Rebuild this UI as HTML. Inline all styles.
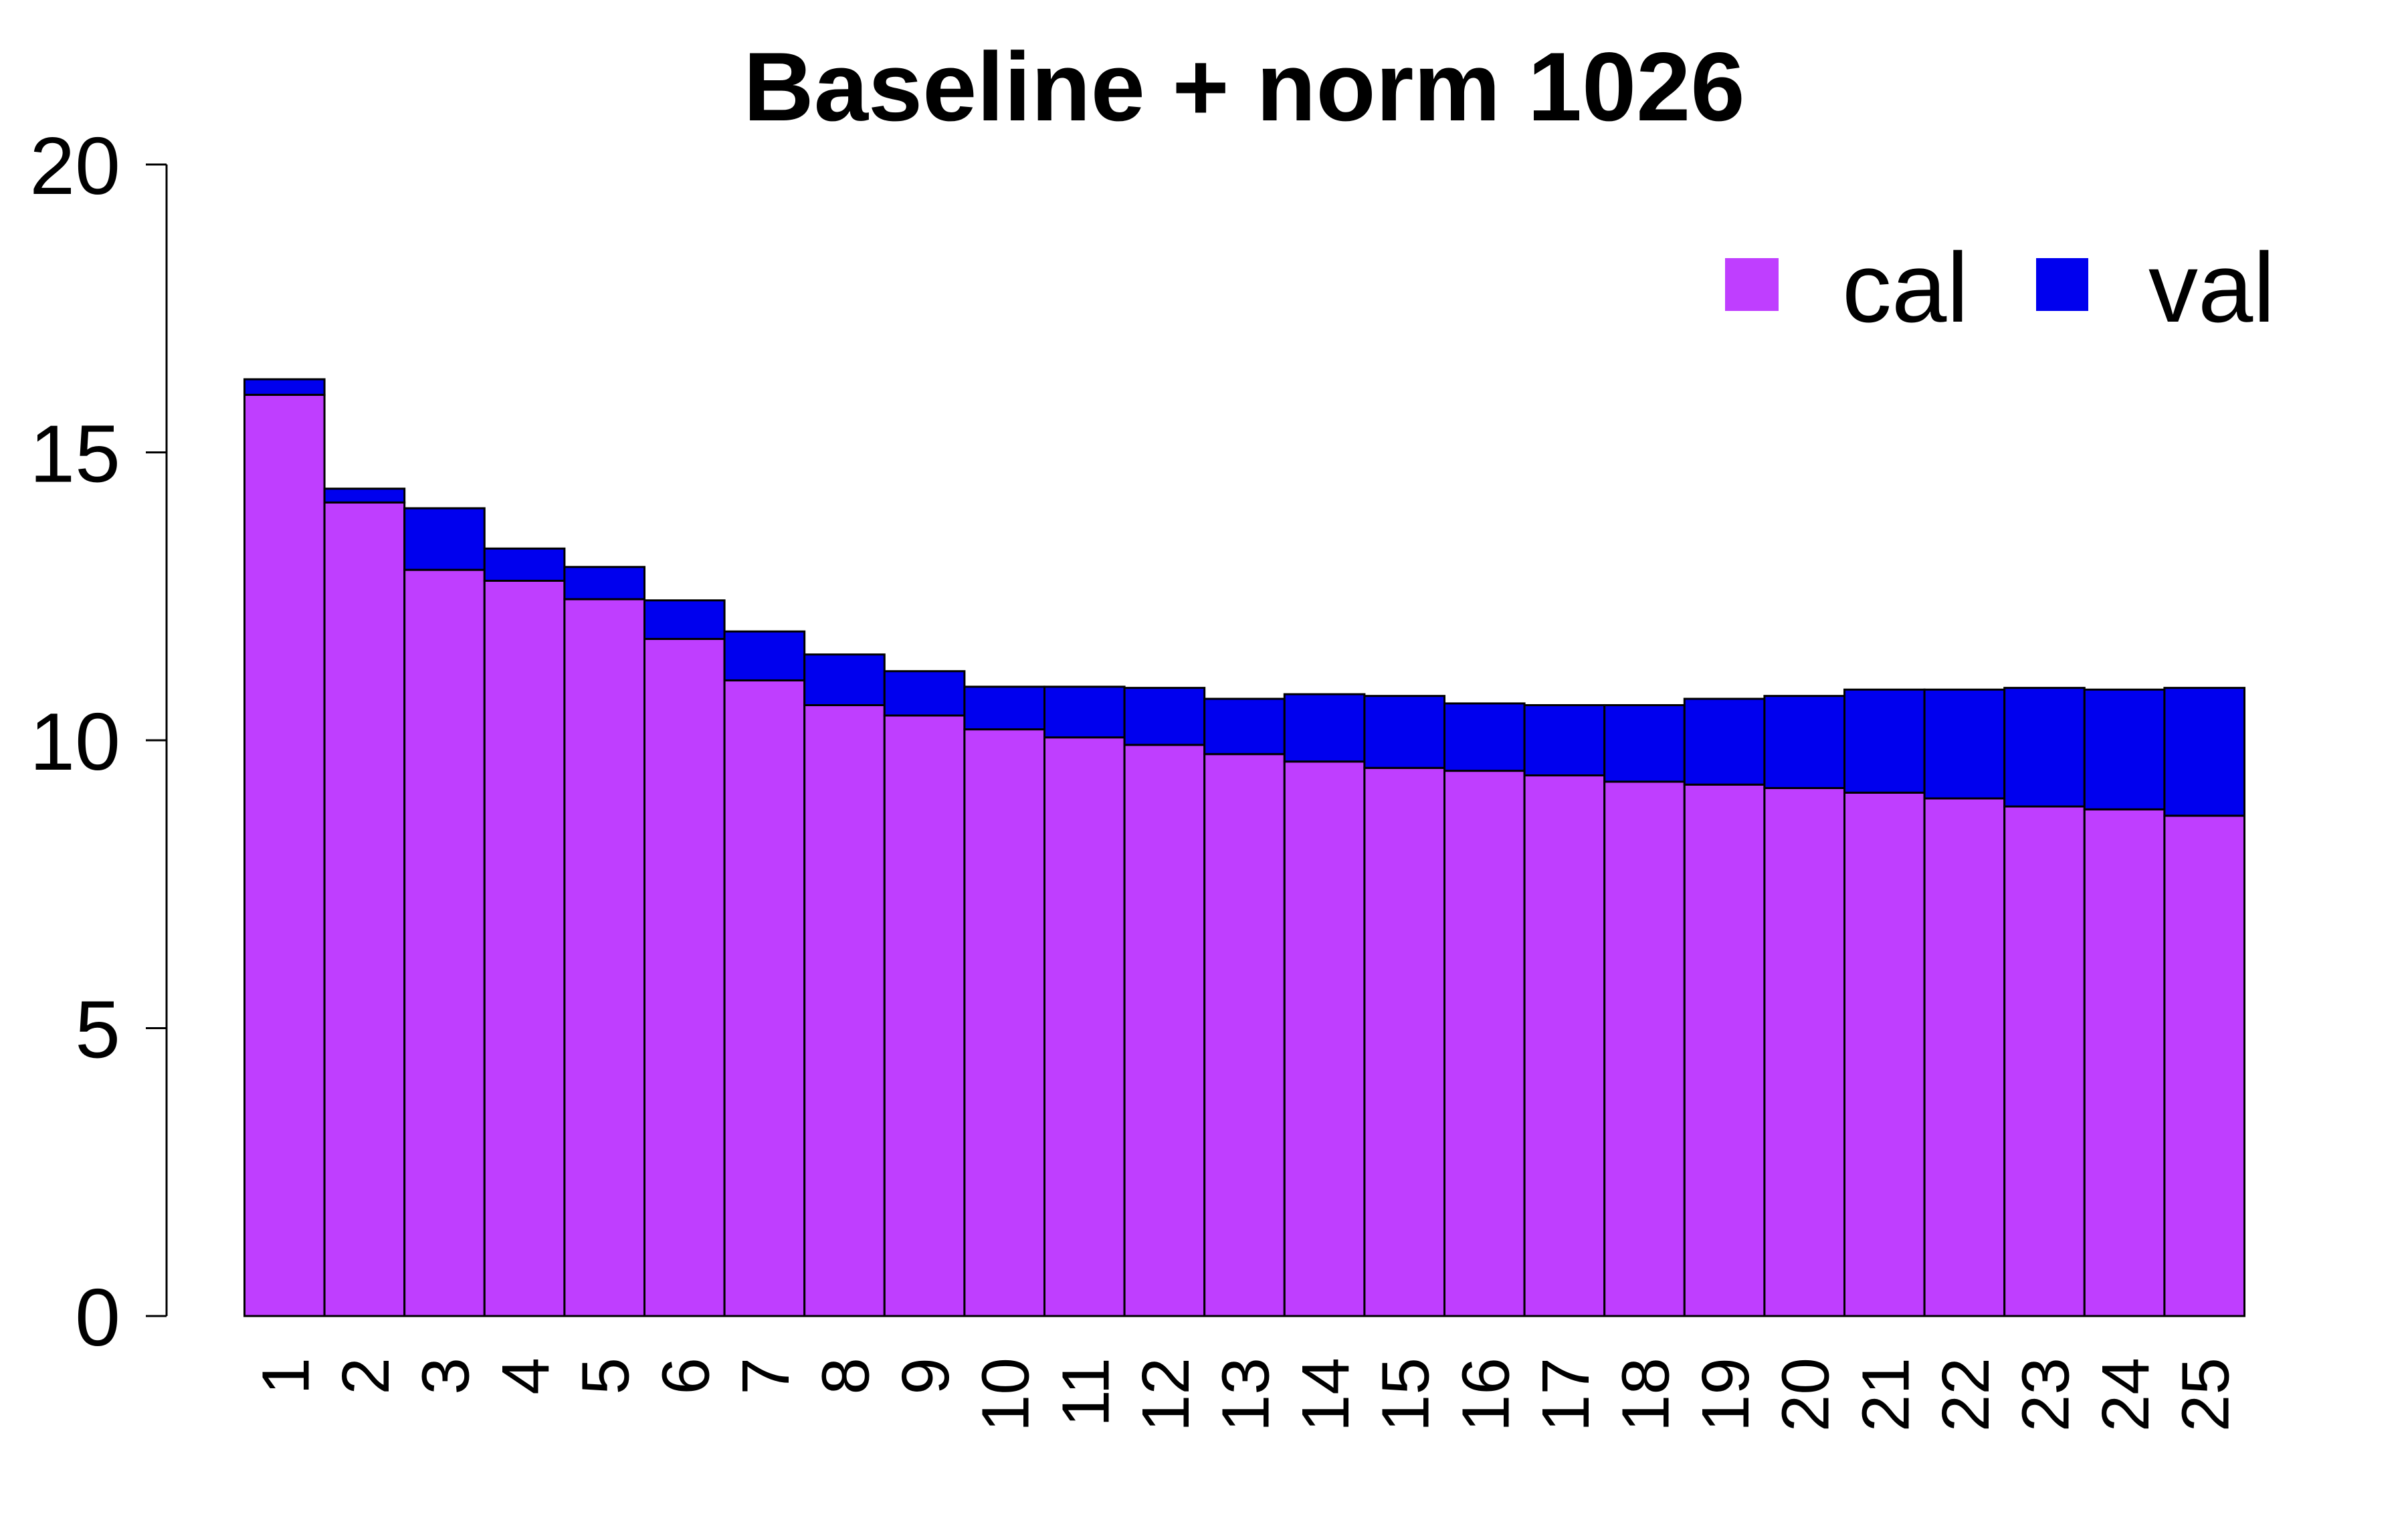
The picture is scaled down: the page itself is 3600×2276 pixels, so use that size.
<!DOCTYPE html>
<html><head><meta charset="utf-8"><style>
html,body{margin:0;padding:0;background:#fff;}
svg{display:block;font-family:"Liberation Sans",Arial,sans-serif;}
</style></head><body>
<svg id="chart" width="3600" height="2276" viewBox="0 0 3600 2276" xmlns="http://www.w3.org/2000/svg">
<rect width="3600" height="2276" fill="#fff"/>
<text x="1860" y="180" text-anchor="middle" font-size="146" font-weight="bold">Baseline + norm 1026</text>
<g id="bars"></g>
<g id="yaxis"></g>
<g id="xaxis"></g>
<g>
<rect x="2579" y="386" width="80" height="79" fill="#BF3EFF"/>
<text x="2754" y="481" font-size="148">cal</text>
<rect x="3044" y="386" width="78" height="79" fill="#0000EE"/>
<text x="3212" y="481" font-size="148">val</text>
</g>
</svg>
<script>
const categories = ["1","2","3","4","5","6","7","8","9","10","11","12","13","14","15","16","17","18","19","20","21","22","23","24","25"];
const calValues = [16.0,14.13,12.96,12.77,12.45,11.76,11.04,10.61,10.43,10.19,10.05,9.92,9.76,9.63,9.52,9.47,9.39,9.28,9.23,9.17,9.09,8.99,8.85,8.8,8.69];
const totalValues = [16.27,14.37,14.03,13.33,13.01,12.43,11.89,11.49,11.2,10.93,10.93,10.91,10.72,10.8,10.77,10.64,10.61,10.61,10.72,10.77,10.88,10.88,10.91,10.88,10.91];
const yTicks = [0,5,10,15,20];

const NS = "http://www.w3.org/2000/svg";
const y0 = 1968, yTop = 246, yMax = 20;
const xLeft = 365.5, barW = 119.6;
function yScale(v){ return y0 - (y0 - yTop) * v / yMax; }
function xScale(i){ return xLeft + i * barW; }
function mk(tag, attrs){ const e = document.createElementNS(NS, tag); for (const k in attrs) e.setAttribute(k, attrs[k]); return e; }

const bars = document.getElementById('bars');
categories.forEach((c, i) => {
  const x = xScale(i);
  const cal = mk('rect', {x: x, y: yScale(calValues[i]), width: barW, height: y0 - yScale(calValues[i]), fill: '#BF3EFF', stroke: '#000', 'stroke-width': 3});
  
  
  bars.appendChild(cal);
  const val = mk('rect', {x: x, y: yScale(totalValues[i]), width: barW, height: yScale(calValues[i]) - yScale(totalValues[i]), fill: '#0000EE', stroke: '#000', 'stroke-width': 3});
  
  
  bars.appendChild(val);
});

const yaxis = document.getElementById('yaxis');
const axLine = mk('line', {x1: 249, x2: 249, y1: yScale(0), y2: yScale(20), stroke: '#000', 'stroke-width': 3});


yaxis.appendChild(axLine);
yTicks.forEach(t => {
  const y = yScale(t);
  const tk = mk('line', {x1: 218, x2: 249, y1: y, y2: y, stroke: '#000', 'stroke-width': 3});
  
  
  yaxis.appendChild(tk);
  const lb = mk('text', {x: 180, y: y + 44, 'text-anchor': 'end', 'font-size': 122});
  lb.textContent = t;
  
  
  yaxis.appendChild(lb);
});

const xaxis = document.getElementById('xaxis');
categories.forEach((c, i) => {
  const cx = xScale(i) + barW / 2;
  const lb = mk('text', {x: 0, y: 0, 'text-anchor': 'end', 'font-size': 100, transform: 'translate(' + (cx + 36) + ',2030) rotate(-90)'});
  lb.textContent = c;
  
  
  xaxis.appendChild(lb);
});
</script>
</body></html>
